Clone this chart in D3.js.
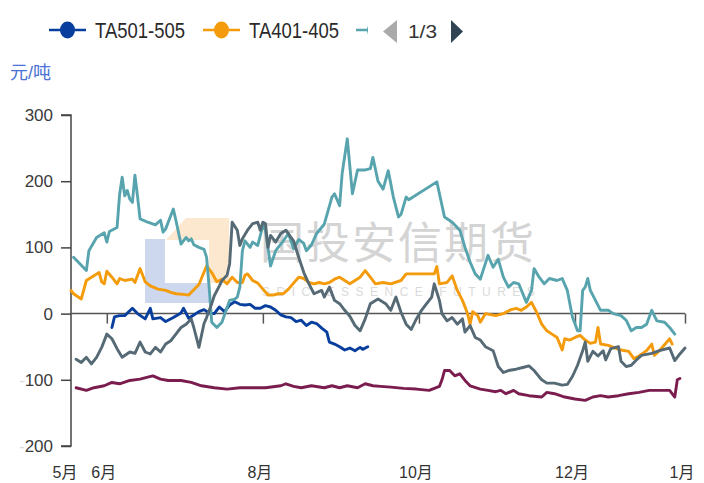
<!DOCTYPE html>
<html>
<head>
<meta charset="utf-8">
<script src="https://cdn.jsdelivr.net/npm/d3@7"></script>
<style>
  body { margin: 0; background: #fff; }
  svg { display: block; font-family: "Liberation Sans", "Noto Sans CJK SC", sans-serif; }
</style>
</head>
<body>
<div id="chart"></div>
<script>
// Seasonal TA spreads, yuan/ton. Dates are MM-DD: May..Dec = year 1, Jan = year 2

// TA501-505 (current season, blue)
const ta501 = [["06-03",-21],["06-04",-5],["06-06",-3],["06-08",-3],["06-11",8],["06-13",0],["06-16",-8],["06-18",8],["06-19",-8],
  ["06-22",-6],["06-24",-12],["06-27",-6],["06-30",1],["07-01",8],["07-03",-7],["07-05",-2],["07-07",3],["07-09",6],["07-11",1],
  ["07-13",0],["07-15",10],["07-17",3],["07-19",13],["07-21",18],["07-23",14],["07-25",13],["07-27",14],["07-29",8],["07-31",8],
  ["08-02",12],["08-04",10],["08-06",5],["08-08",-2],["08-10",-5],["08-12",-6],["08-14",-12],["08-16",-10],["08-18",-18],
  ["08-20",-13],["08-22",-15],["08-24",-22],["08-26",-28],["08-27",-43],["08-29",-46],["08-31",-50],["09-02",-55],["09-04",-52],
  ["09-06",-56],["09-08",-51],["09-09",-54],["09-11",-50]];

// TA401-405 (orange)
const ta401 = [["05-18",35],["05-19",30],["05-22",22],["05-24",50],["05-26",55],["05-29",62],["05-30",48],["05-31",45],["06-01",64],
  ["06-03",55],["06-05",45],["06-06",53],["06-08",50],["06-11",52],["06-12",47],["06-14",68],["06-16",48],["06-18",42],["06-21",37],
  ["06-24",35],["06-26",32],["06-28",30],["07-01",29],["07-03",28],["07-05",36],["07-07",44],["07-10",72],["07-12",62],["07-14",48],
  ["07-16",52],["07-18",45],["07-20",55],["07-22",47],["07-24",47],["07-25",58],["07-26",60],["07-28",50],["07-30",46],["08-01",37],
  ["08-03",28],["08-05",28],["08-07",30],["08-09",30],["08-11",37],["08-13",46],["08-15",55],["08-17",53],["08-19",47],["08-21",45],
  ["08-23",47],["08-25",45],["08-27",47],["08-29",52],["08-31",55],["09-02",50],["09-04",45],["09-06",50],["09-08",55],["09-10",65],
  ["09-12",55],["09-14",45],["09-17",47],["09-20",45],["09-24",50],["09-26",60],["10-07",60],["10-08",71],["10-09",45],["10-12",47],
  ["10-14",57],["10-16",35],["10-18",20],["10-20",0],["10-21",-16],["10-22",3],["10-24",-3],["10-25",-13],["10-27",0],["10-31",-3],
  ["11-03",0],["11-06",6],["11-08",8],["11-10",5],["11-12",10],["11-14",17],["11-16",2],["11-18",-16],["11-20",-26],["11-22",-31],
  ["11-24",-36],["11-26",-55],["11-27",-38],["11-29",-40],["12-01",-36],["12-03",-33],["12-05",-40],["12-07",-45],["12-09",-43],
  ["12-10",-21],["12-11",-46],["12-14",-48],["12-16",-51],["12-19",-55],["12-22",-57],["12-24",-68],["12-26",-64],["12-29",-56],
  ["12-31",-46],["01-01",-63],["01-03",-56],["01-05",-47],["01-07",-38],["01-08",-46]];

// TA301-305 (teal)
const ta301 = [["05-19",85],["05-24",65],["05-25",95],["05-28",115],["05-31",122],["06-01",108],["06-02",124],["06-05",130],
  ["06-06",180],["06-07",206],["06-08",178],["06-09",186],["06-10",173],["06-11",168],["06-12",209],["06-13",177],["06-14",143],
  ["06-17",138],["06-20",134],["06-22",141],["06-23",123],["06-24",128],["06-27",158],["06-28",141],["06-30",105],["07-02",115],
  ["07-03",110],["07-04",113],["07-05",104],["07-07",100],["07-09",97],["07-10",85],["07-11",40],["07-12",-13],["07-14",-21],
  ["07-16",-13],["07-19",20],["07-21",22],["07-22",25],["07-23",40],["07-24",95],["07-25",110],["07-27",100],["07-28",108],
  ["07-30",103],["08-01",133],["08-02",126],["08-04",72],["08-06",95],["08-07",100],["08-09",110],["08-11",121],["08-13",98],
  ["08-15",112],["08-17",106],["08-18",95],["08-20",104],["08-22",121],["08-25",135],["08-28",176],["08-29",181],["08-31",163],
  ["09-01",212],["09-03",264],["09-05",181],["09-07",217],["09-10",217],["09-12",219],["09-13",236],["09-15",200],["09-17",188],
  ["09-19",216],["09-21",176],["09-23",146],["09-24",150],["09-26",176],["09-27",172],["10-08",199],["10-11",146],["10-14",138],
  ["10-17",126],["10-19",100],["10-21",78],["10-23",60],["10-25",52],["10-28",88],["10-30",70],["11-01",82],["11-03",55],
  ["11-05",40],["11-07",47],["11-09",45],["11-12",17],["11-14",35],["11-15",68],["11-17",55],["11-19",45],["11-21",53],["11-24",50],
  ["11-26",53],["11-28",35],["11-30",-5],["12-02",-26],["12-03",-26],["12-04",35],["12-05",40],["12-06",53],["12-07",35],
  ["12-09",20],["12-11",5],["12-14",5],["12-16",0],["12-19",-3],["12-21",-10],["12-23",-26],["12-25",-21],["12-27",-21],
  ["12-29",-16],["12-31",5],["01-02",-11],["01-05",-13],["01-07",-21],["01-09",-31]];

// TA201-205 (slate grey)
const ta201 = [["05-20",-69],["05-22",-74],["05-24",-66],["05-26",-76],["05-28",-66],["05-30",-51],["06-01",-31],["06-03",-38],
  ["06-05",-53],["06-07",-66],["06-10",-58],["06-12",-60],["06-14",-43],["06-16",-58],["06-18",-61],["06-20",-51],["06-22",-58],
  ["06-24",-46],["06-26",-41],["06-28",-31],["06-30",-21],["07-02",-16],["07-04",-8],["07-05",-21],["07-06",-36],["07-07",-51],
  ["07-09",-15],["07-10",-6],["07-12",15],["07-13",27],["07-15",42],["07-16",50],["07-18",58],["07-19",75],["07-20",138],
  ["07-22",126],["07-23",103],["07-24",113],["07-26",126],["07-28",136],["07-30",138],["07-31",126],["08-01",138],["08-02",136],
  ["08-03",100],["08-04",118],["08-06",108],["08-08",121],["08-10",126],["08-12",115],["08-13",110],["08-15",85],["08-17",62],
  ["08-19",45],["08-21",30],["08-24",35],["08-25",25],["08-27",40],["08-29",20],["08-31",15],["09-02",5],["09-04",-4],["09-06",-18],
  ["09-08",-26],["09-10",-8],["09-12",15],["09-15",22],["09-18",15],["09-20",5],["09-22",25],["09-24",2],["09-26",-16],["09-28",-24],
  ["09-30",-8],["10-02",5],["10-04",15],["10-06",25],["10-07",45],["10-09",20],["10-10",0],["10-12",-11],["10-14",-6],["10-16",-16],
  ["10-18",-8],["10-19",-28],["10-21",-18],["10-23",-36],["10-25",-40],["10-27",-50],["10-30",-56],["11-01",-80],["11-03",-89],
  ["11-05",-86],["11-08",-84],["11-11",-81],["11-13",-79],["11-15",-86],["11-18",-100],["11-20",-105],["11-23",-105],["11-26",-108],
  ["11-28",-107],["11-30",-95],["12-02",-78],["12-04",-56],["12-05",-43],["12-06",-72],["12-08",-57],["12-10",-64],["12-12",-56],
  ["12-13",-70],["12-15",-53],["12-18",-50],["12-19",-72],["12-21",-80],["12-23",-78],["12-25",-70],["12-27",-63],["12-31",-60],
  ["01-03",-56],["01-07",-52],["01-09",-71],["01-11",-61],["01-13",-52]];

// TA101-105 (maroon)
const ta101 = [["05-20",-112],["05-24",-116],["05-27",-112],["05-31",-109],["06-03",-104],["06-06",-106],["06-10",-101],["06-14",-99],
  ["06-17",-96],["06-19",-94],["06-22",-99],["06-25",-101],["06-30",-101],["07-04",-104],["07-08",-109],["07-13",-112],["07-18",-114],
  ["07-23",-112],["07-28",-112],["08-02",-112],["08-08",-109],["08-10",-106],["08-13",-110],["08-16",-112],["08-20",-109],["08-25",-112],
  ["08-28",-109],["08-31",-112],["09-03",-109],["09-07",-112],["09-10",-106],["09-13",-109],["09-16",-110],["09-20",-111],["09-25",-113],
  ["09-30",-114],["10-05",-116],["10-09",-110],["10-10",-100],["10-11",-86],["10-13",-86],["10-15",-94],["10-17",-91],["10-19",-101],
  ["10-21",-109],["10-25",-114],["10-28",-116],["10-31",-118],["11-02",-116],["11-04",-121],["11-07",-116],["11-09",-121],["11-13",-124],
  ["11-18",-126],["11-20",-119],["11-23",-121],["11-27",-126],["12-01",-129],["12-05",-131],["12-08",-126],["12-11",-124],["12-14",-126],
  ["12-18",-124],["12-22",-121],["12-26",-119],["12-30",-116],["01-03",-116],["01-07",-116],["01-09",-126],["01-10",-100],["01-11",-98]];

const legendNames = ["TA501-505", "TA401-405"];
const yTicks = [300, 200, 100, 0, -100, -200];
const xTickDates = ["06-01", "08-01", "10-01", "12-01"];
const xTickLabels = ["6月", "8月", "10月", "12月"];
const xEdgeDates = ["05-18", "01-13"];
const xEdgeLabels = ["5月", "1月"];

const width = 704, height = 483;
const colors = { ta501: "#083f9e", ta401: "#f49b0b", ta301: "#58a4ae", ta201: "#566a75", ta101: "#7a1c4d" };

const parseDay = s => {
  const [m, d] = s.split("-").map(Number);
  return new Date(m >= 5 ? 2024 : 2025, m - 1, d);
};

const svg = d3.select("#chart").append("svg")
  .attr("width", width).attr("height", height);

const x = d3.scaleTime()
  .domain(xEdgeDates.map(parseDay))
  .range([71, 685]);
const y = d3.scaleLinear()
  .domain([-200, 300])
  .range([446, 115]);

// ---------- watermark ----------
const wm = svg.append("g");
wm.append("path")
  .attr("d", "M145,239H165V283H209V303H145Z")
  .attr("fill", "#cdd8ee");
wm.append("path")
  .attr("d", "M166,240L186,218H229V283H209V240Z")
  .attr("fill", "#fbe8cf");
wm.append("text")
  .attr("x", 260).attr("y", 259)
  .attr("font-size", 44)
  .attr("font-family", "Noto Sans CJK SC")
  .attr("fill", "#d4d4d4")
  .attr("letter-spacing", 2)
  .text("国投安信期货");
wm.append("text")
  .attr("x", 262).attr("y", 296)
  .attr("font-size", 12)
  .attr("fill", "#dadada")
  .attr("letter-spacing", 6.5)
  .text("SDIC ESSENCE FUTURES");

// ---------- axes ----------
const yAxis = svg.append("g").attr("transform", "translate(71,0)")
  .call(d3.axisLeft(y).tickValues(yTicks).tickSize(10).tickPadding(8).tickFormat(d => Math.abs(d)));
yAxis.select(".domain").attr("stroke", "#444").attr("stroke-width", 1.5).attr("d", `M-10,${y(300)}H0V${y(-200)}H-10`);
yAxis.selectAll(".tick line").attr("stroke", "#444").attr("stroke-width", 1.5);
yAxis.selectAll(".tick text")
  .attr("font-size", 17).attr("fill", "#3a3a3a")
  .each(function (d) {
    if (d < 0) {
      const t = d3.select(this);
      t.text("");
      t.append("tspan").attr("fill", "#dcdcdc").text("-");
      t.append("tspan").text(Math.abs(d));
    }
  });

const xAxis = svg.append("g").attr("transform", `translate(0,${y(0)})`)
  .call(d3.axisBottom(x).tickValues(xTickDates.map(parseDay).concat([parseDay(xEdgeDates[1])]))
    .tickSize(10).tickFormat(""));
xAxis.select(".domain").attr("stroke", "#555").attr("stroke-width", 1.5).attr("d", `M71,0H685`);
xAxis.selectAll(".tick line").attr("stroke", "#555").attr("stroke-width", 1.5);

const xlab = svg.append("g")
  .attr("font-size", 16).attr("fill", "#333").attr("text-anchor", "middle");
xlab.selectAll("text.mid").data(xTickDates).join("text")
  .attr("class", "mid")
  .attr("x", d => x(parseDay(d)) - 3)
  .attr("y", 478)
  .text((d, i) => xTickLabels[i]);
xlab.selectAll("text.edge").data(xEdgeDates).join("text")
  .attr("class", "edge")
  .attr("x", (d, i) => x(parseDay(d)) + (i === 0 ? -6 : -3))
  .attr("y", 478)
  .text((d, i) => xEdgeLabels[i]);

// ---------- lines ----------
const line = d3.line()
  .x(d => x(parseDay(d[0])))
  .y(d => y(d[1]));

const series = [
  { key: "ta501", data: ta501 },
  { key: "ta401", data: ta401 },
  { key: "ta301", data: ta301 },
  { key: "ta201", data: ta201 },
  { key: "ta101", data: ta101 }
];

svg.append("g").selectAll("path").data(series).join("path")
  .attr("d", s => line(s.data))
  .attr("fill", "none")
  .attr("stroke", s => colors[s.key])
  .attr("stroke-width", 2.9)
  .attr("stroke-linejoin", "round")
  .attr("stroke-linecap", "round");

// ---------- unit label ----------
svg.append("text")
  .attr("x", 10).attr("y", 79)
  .attr("font-size", 18)
  .attr("fill", "#4a72d6")
  .text("元/吨");

// ---------- legend ----------
const legend = svg.append("g");
const legendX = [49, 203];
const legendKeys = ["ta501", "ta401"];
legendNames.forEach((name, i) => {
  const g = legend.append("g").attr("transform", `translate(${legendX[i]},30)`);
  g.append("line").attr("x1", 0).attr("x2", 37).attr("stroke", colors[legendKeys[i]]).attr("stroke-width", 2.5);
  g.append("ellipse").attr("cx", 18.5).attr("rx", 7.5).attr("ry", 8.5).attr("fill", colors[legendKeys[i]]);
  g.append("text")
    .attr("x", 46).attr("y", 8)
    .attr("font-size", 22)
    .attr("fill", "#2a2a2a")
    .attr("textLength", 90).attr("lengthAdjust", "spacingAndGlyphs")
    .text(name);
});
// clipped third legend item
legend.append("clipPath").attr("id", "lgclip")
  .append("rect").attr("x", 350).attr("y", 10).attr("width", 18).attr("height", 40);
const g3 = legend.append("g").attr("clip-path", "url(#lgclip)");
g3.append("line").attr("x1", 356).attr("x2", 393).attr("y1", 30).attr("y2", 30)
  .attr("stroke", colors.ta301).attr("stroke-width", 2.5);
g3.append("ellipse").attr("cx", 374.5).attr("cy", 30).attr("rx", 7.5).attr("ry", 8.5).attr("fill", colors.ta301);

// pager
legend.append("path").attr("d", "M383,31.5L397,20V43Z").attr("fill", "#aaaaaa");
legend.append("text")
  .attr("x", 408).attr("y", 38)
  .attr("font-size", 19).attr("fill", "#333")
  .attr("textLength", 29).attr("lengthAdjust", "spacingAndGlyphs")
  .text("1/3");
legend.append("path").attr("d", "M451,20L463,31.5L451,43Z").attr("fill", "#2f4554");
</script>
</body>
</html>
